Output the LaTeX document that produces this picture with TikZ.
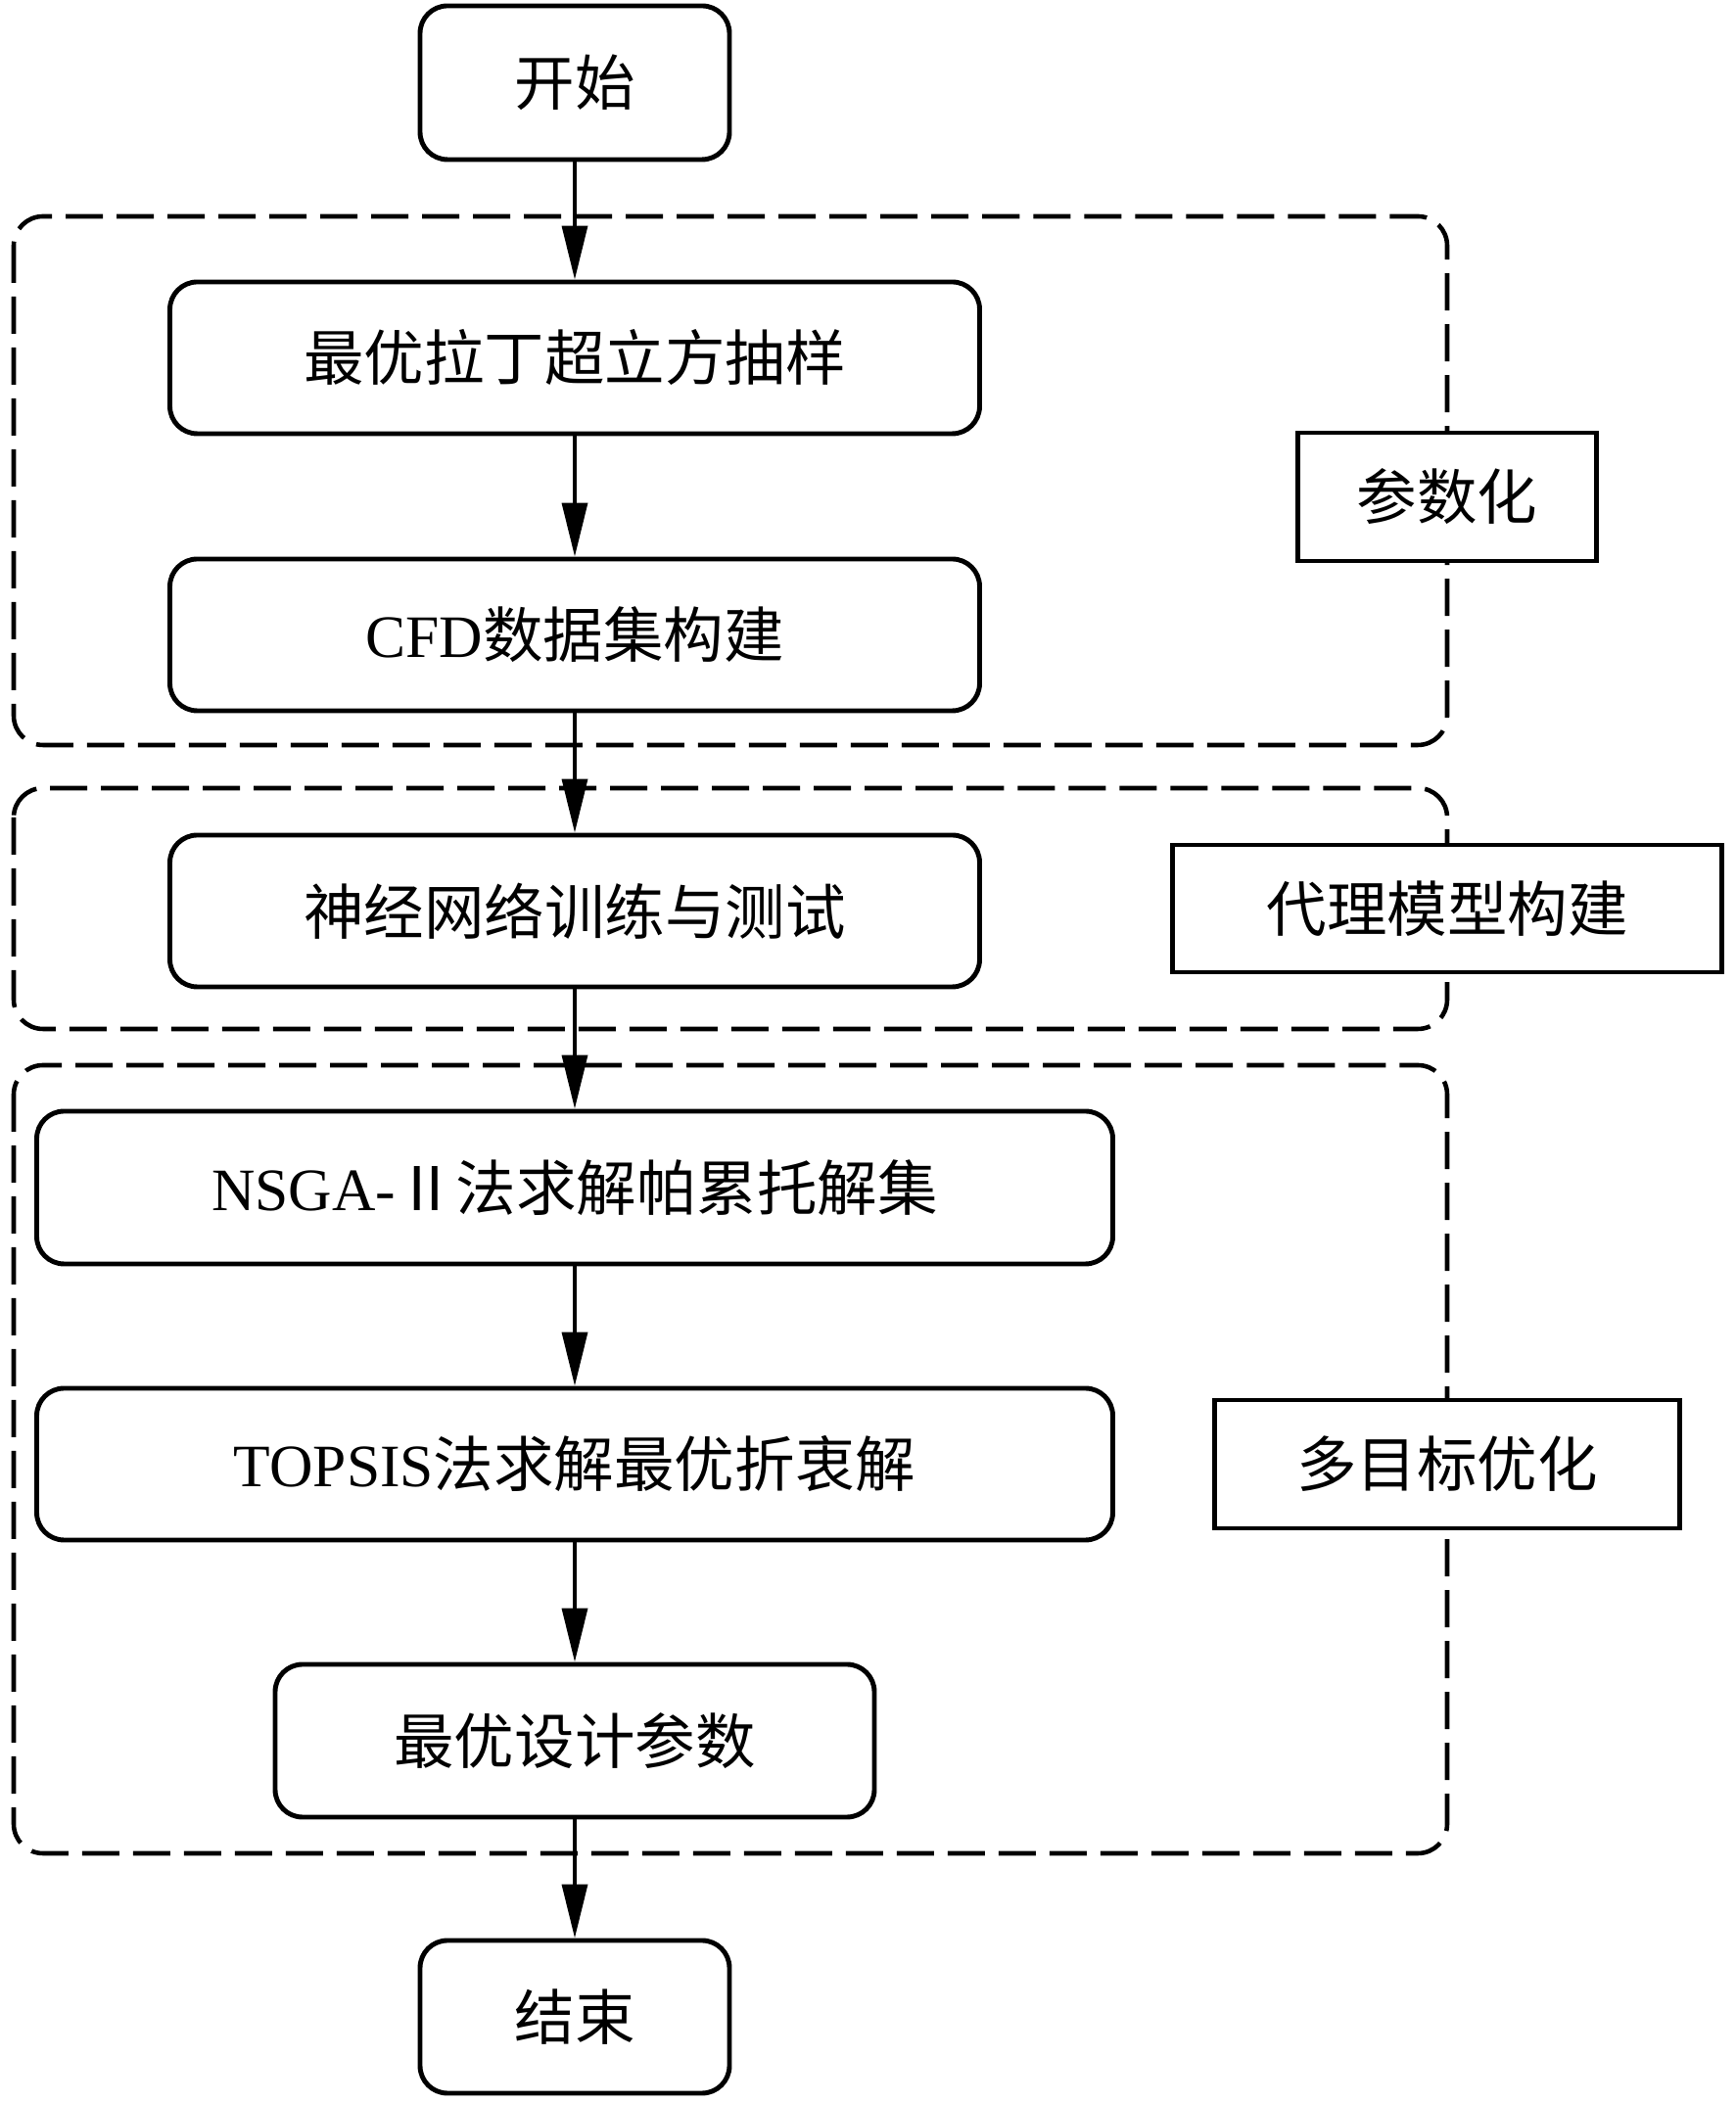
\documentclass[tikz,border=0pt]{standalone}
\usepackage{fontspec}
\setmainfont{Liberation Serif}
\newfontfamily\cjk{Noto Sans CJK SC}
\usetikzlibrary{arrows.meta}

\begin{document}
\begin{tikzpicture}[
  proc/.style={draw, line width=1.4pt, rounded corners=0.28cm, fill=white, inner sep=0pt,
    minimum height=1.55cm, font=\cjk\fontsize{17.5}{20}\selectfont},
  tag/.style={draw, line width=1.4pt, fill=white, inner sep=0pt,
    minimum height=1.31cm, font=\cjk\fontsize{17.5}{20}\selectfont},
  frame/.style={dash pattern=on 0.38cm off 0.14cm, line width=1.3pt, rounded corners=0.3cm},
  flow/.style={line width=1pt, -{Triangle[length=0.55cm,width=0.26cm]}}
]

\useasboundingbox (0,0) rectangle (17.72,21.48);

\draw[frame] (0.14,19.27) rectangle (14.78,13.87);
\draw[frame] (0.14,13.43) rectangle (14.78,10.97);
\draw[frame] (0.14,10.60) rectangle (14.78,2.55);

\node [proc, minimum width=3.16cm, minimum height=1.57cm] (start) at (5.87,20.635) {开始};
\node [proc, minimum width=8.27cm] (lhs) at (5.87,17.825) {最优拉丁超立方抽样};
\node [proc, minimum width=8.27cm] (cfd) at (5.87,14.995) {{\rmfamily CFD}数据集构建};
\node [proc, minimum width=8.27cm] (nn) at (5.87,12.175) {神经网络训练与测试};
\node [proc, minimum width=10.99cm, minimum height=1.56cm] (nsga) at (5.87,9.35) {{\rmfamily NSGA-}Ⅱ法求解帕累托解集};
\node [proc, minimum width=10.99cm] (topsis) at (5.87,6.525) {{\rmfamily TOPSIS}法求解最优折衷解};
\node [proc, minimum width=6.12cm, minimum height=1.56cm] (best) at (5.87,3.70) {最优设计参数};
\node [proc, minimum width=3.16cm, minimum height=1.56cm] (end) at (5.87,0.88) {结束};

\node [tag, minimum width=3.05cm] (param) at (14.78,16.405) {参数化};
\node [tag, minimum width=5.61cm, minimum height=1.30cm] (surr) at (14.78,12.20) {代理模型构建};
\node [tag, minimum width=4.75cm] (moo) at (14.78,6.525) {多目标优化};

\draw[flow] (start) -- (lhs);
\draw[flow] (lhs) -- (cfd);
\draw[flow] (cfd) -- (nn);
\draw[flow] (nn) -- (nsga);
\draw[flow] (nsga) -- (topsis);
\draw[flow] (topsis) -- (best);
\draw[flow] (best) -- (end);

\end{tikzpicture}
\end{document}
